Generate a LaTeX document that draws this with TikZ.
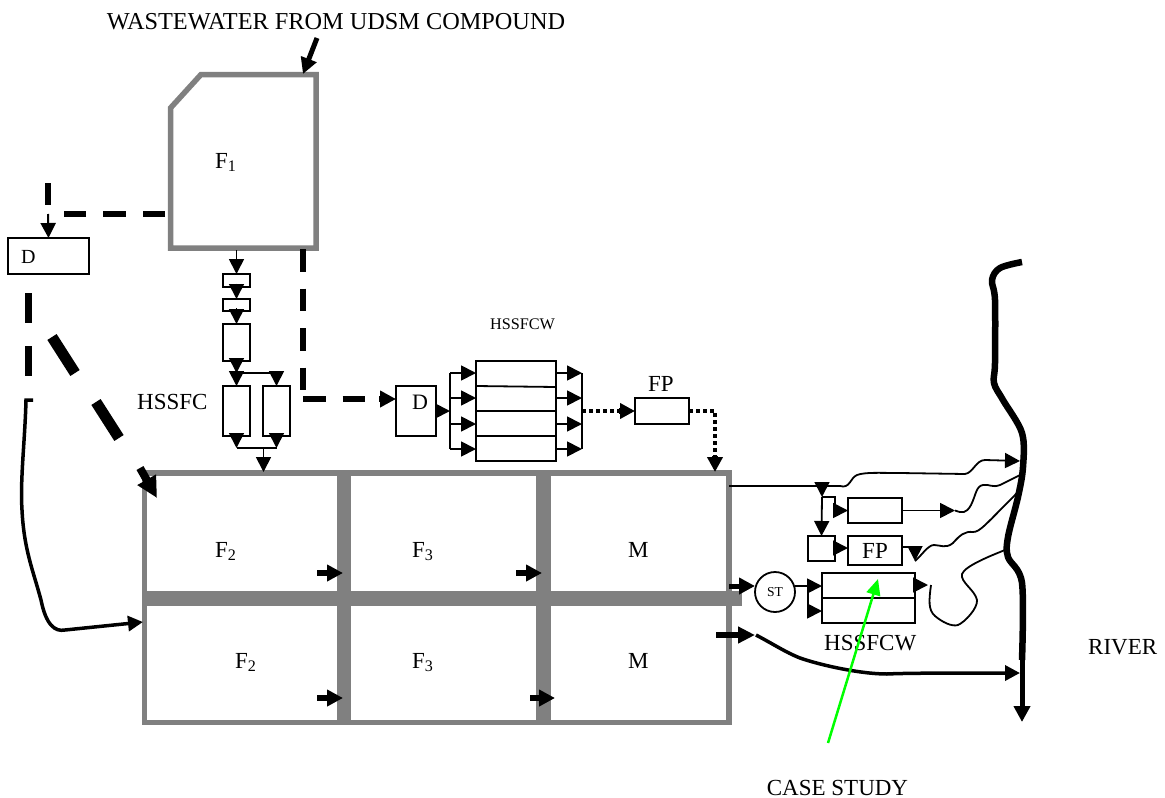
\documentclass[tikz,border=0pt]{standalone}
\usepackage{fontspec}
\setmainfont{Liberation Serif}
\usetikzlibrary{arrows.meta}
\definecolor{wallgray}{RGB}{128,128,128}
\definecolor{lime}{RGB}{0,255,0}
\tikzset{
  tip/.style={-{Triangle[length=15pt,width=15pt]}},
  bigtip/.style={-{Triangle[length=16pt,width=16pt]}},
  bx/.style={draw=black,line width=1.8pt,inner sep=0pt,outer sep=0pt,fill=white},
  wall/.style={draw=wallgray,line width=5.5pt},
  band/.style={fill=wallgray,draw=none},
  thin line/.style={draw=black,line width=1.8pt},
  med line/.style={draw=black,line width=3.5pt},
  heavy line/.style={draw=black,line width=6pt},
  dashy/.style={draw=black,line width=6pt,dash pattern=on 22.5pt off 17pt},
  dotty/.style={draw=black,line width=3.5pt,dash pattern=on 3.5pt off 3.5pt},
  stub/.style={draw=black,line width=6pt},
  lbl/.style={inner sep=0pt,anchor=base west,font=\fontsize{23}{25}\selectfont},
  lblsmall/.style={inner sep=0pt,anchor=base west,font=\fontsize{16.2}{18}\selectfont},
}
\begin{document}
\begin{tikzpicture}[x=1pt,y=-1pt]
\useasboundingbox (0,0) rectangle (1165,798);
% walls
\fill[band] (336.5,473) rectangle (351,722);
\fill[band] (536,473) rectangle (550.5,722);
\fill[band] (145,591) rectangle (742,605.5);
\draw[wall] (144.5,473) rectangle (729,722.5);
\draw[wall] (201,74.5) -- (316,74.5) -- (316,248) -- (170.5,248) -- (170.5,108) -- cycle;
% labels
\node[lbl,anchor=base] (title) at (336,29) {\fontsize{24.3}{26}\selectfont WASTEWATER FROM UDSM COMPOUND};
\node[lbl] (f1) at (215,168) {F\textsubscript{1}};
\node[lbl] (f2a) at (215,557) {F\textsubscript{2}};
\node[lbl] (f3a) at (412,557) {F\textsubscript{3}};
\node[lbl] (ma) at (628,557) {M};
\node[lbl] (f2b) at (235,668) {F\textsubscript{2}};
\node[lbl] (f3b) at (412,668) {F\textsubscript{3}};
\node[lbl] (mb) at (628,668) {M};
\node[lbl] (hssfc) at (137,409) {HSSFC};
\node[lblsmall] (hw1) at (490,329) {HSSFCW};
\node[lbl] (fpl) at (648,391) {FP};
\node[lbl] (hw2) at (824,650) {HSSFCW};
\node[lbl] (river) at (1088,654) {RIVER};
\node[lbl,anchor=base] (case) at (837.5,795) {CASE STUDY};
% boxes
\node[bx,minimum width=81pt,minimum height=36pt] (dl) at (48.5,256) {};
\node[lbl,font=\fontsize{20}{22}\selectfont] (dltxt) at (21,263) {D};
\node[bx,minimum width=27pt,minimum height=13pt] (b1) at (236.5,280.5) {};
\node[bx,minimum width=27pt,minimum height=12pt] (b2) at (236.5,305) {};
\node[bx,minimum width=27pt,minimum height=37pt] (b3) at (236.5,342.5) {};
\node[bx,minimum width=27pt,minimum height=50pt] (b4) at (236.5,411) {};
\node[bx,minimum width=27pt,minimum height=50pt] (b5) at (276.5,411) {};
\node[bx,minimum width=40pt,minimum height=50pt] (dm) at (416,411) {};
\node[lbl,font=\fontsize{22}{24}\selectfont] (dmtxt) at (412,409) {D};
\node[bx,minimum width=80pt,minimum height=100pt] (cw) at (516,411) {};
\node[bx,minimum width=54pt,minimum height=26pt] (fp1) at (662,411) {};
\node[bx,minimum width=27pt,minimum height=25pt] (sq) at (821.5,548.5) {};
\node[bx,minimum width=54pt,minimum height=25pt] (r1) at (875,510.5) {};
\node[bx,minimum width=54pt,minimum height=29pt,font=\fontsize{23}{25}\selectfont] (fp2) at (875,550.5) {FP};
\node[bx,minimum width=93pt,minimum height=50pt] (cw2) at (868.5,598) {};
\node[bx,circle,minimum size=40pt,font=\fontsize{13.6}{15}\selectfont] (st) at (775,592) {ST};
% dividers
\draw[thin line] (cw.west |- 0,386) -- (cw.east |- 0,387);
\draw[thin line] (cw.west |- 0,411) -- (cw.east |- 0,411);
\draw[thin line] (cw.west |- 0,436) -- (cw.east |- 0,436);
\draw[thin line] (cw2.west) -- (cw2.east);
% coordinates
\coordinate (inF1a) at (317,38);
\coordinate (inF1b) at (303,74);
\coordinate (f1b) at (236.5,250);
\coordinate (j1) at (276.5,373);
\coordinate (j2) at (236.5,373);
\coordinate (j3) at (236.5,448);
\coordinate (j4) at (276.5,448);
\coordinate (j5) at (263.5,448);
\coordinate (top) at (263.5,472);
\foreach \n/\x/\y in {bl/450/373,bl2/450/398,bl3/450/424,bl4/450/449,br/582/373,br2/582/398,br3/582/424,br4/582/449,brm/582/411,blm/450/411}{\coordinate (\n) at (\x,\y);}
% main vertical chain
\draw[thin line,tip] (f1b) -- (b1.north);
\draw[thin line,tip] (236.5,283.5) -- (b2.north);
\draw[thin line,tip] (236.5,308) -- (b3.north);
\draw[thin line,tip] (236.5,358) -- (j2);
\draw[thin line,tip] (j2) -- (b4.north);
\draw[thin line] (j2) -- (j1);
\draw[thin line,tip] (j1) -- (b5.north);
\draw[thin line,tip] (236.5,433) -- (j3);
\draw[thin line,tip] (276.5,433) -- (j4);
\draw[thin line] (j3) -- (j4);
\draw[thin line,tip] (j5) -- (top);
% F1 input
\draw[draw=black,line width=5pt,bigtip] (inF1a) -- (inF1b);
% dashed to left D
\coordinate (a1) at (165,214);
\coordinate (a2) at (48,214);
\coordinate (a3) at (48,183);
\draw[dashy] (a1) -- (62,214);
\draw[heavy line] (a3) -- (48,205);
\draw[draw=black,line width=2pt,tip] (a2) -- (dl.north);
% dashes under left D
\coordinate (c1) at (28.5,293);
\coordinate (c2) at (28.5,323);
\coordinate (c3) at (28.5,346);
\coordinate (c4) at (28.5,376);
\draw[draw=black,line width=7.5pt] (c1) -- (c2);
\draw[draw=black,line width=7.5pt] (c3) -- (c4);
% diagonal dashes
\coordinate (e1) at (52,337);
\coordinate (e2) at (75,373);
\coordinate (e3) at (96,402);
\coordinate (e4) at (119,438);
\coordinate (e5) at (140,468);
\coordinate (e6) at (157,498);
\draw[draw=black,line width=11pt] (e1) -- (e2);
\draw[draw=black,line width=11pt] (e3) -- (e4);
\draw[draw=black,line width=8pt,-{Triangle[length=21pt,width=20pt]}] (e5) -- (e6);
% left curve
\coordinate (g0) at (33,400);
\coordinate (g1) at (26,400);
\coordinate (g2) at (143,622);
\draw[med line] (g0) -- (g1) .. controls (25,440) and (20,480) .. (22,510) .. controls (24,550) and (33,570) .. (41,600) .. controls (46,625) and (55,632) .. (65,630);
\draw[med line,tip] (65,630) -- (g2);
% short arrows through bands
\foreach \n/\a/\b/\y in {s1/317/343/573,s2/516/542/573,s3/317/343/698,s4/530/555/698}{
  \coordinate (\n a) at (\a,\y); \coordinate (\n b) at (\b,\y);
  \draw[draw=black,line width=6pt,bigtip] (\n a) -- (\n b);
}
% dashed to middle D
\coordinate (h1) at (303,249);
\coordinate (h2) at (303,399);
\coordinate (h3) at (396,399);
\draw[dashy] (h1) -- (303,390);
\draw[dashy] (h2) -- (366,399);
\draw[stub,bigtip] (379,399) -- (dm.west |- h3);
% middle HSSFCW
\draw[thin line,tip] (dm.east) -- (blm);
\draw[thin line] (bl) -- (bl4);
\foreach \c in {bl,bl2,bl3,bl4}{\draw[thin line,tip] (\c) -- (cw.west |- \c);}
\draw[thin line] (br) -- (br4);
\foreach \c in {br,br2,br3,br4}{\draw[thin line,tip] (cw.east |- \c) -- (\c);}
\draw[dotty] (brm) -- (622,411);
\draw[stub,tip] (619,411) -- (fp1.west);
\coordinate (k1) at (715,411);
\coordinate (k2) at (715,472);
\draw[dotty] (fp1.east) -- (k1) -- (715,460);
\draw[stub,tip] (715,456) -- (k2);
% effluent lines
\coordinate (m0) at (729,486);
\coordinate (m1) at (1020,461);
\draw[thin line] (m0) -- (840,486) .. controls (850,489) and (850,478) .. (857,475) .. controls (865,472) and (880,473) .. (900,473) -- (965,474) .. controls (973,473) and (976,460) .. (985,460);
\draw[thin line,tip] (985,460) -- (m1);
\coordinate (n1) at (822,484);
\coordinate (n2) at (822,497);
\draw[thin line,tip] (n1) -- (n2);
\draw[thin line,tip] (n2) -- (sq.north);
\draw[thin line] (n2) -- (835,497) -- (835,505);
\draw[thin line,tip] (834,510.5) -- (r1.west);
\draw[thin line,tip] (834,548) -- (fp2.west |- 0,548);
\coordinate (n3) at (955,510.5);
\coordinate (n4) at (1020,475);
\draw[thin line,tip] (r1.east) -- (n3);
\draw[thin line] (n3) .. controls (962,513) and (966,514) .. (971,505) .. controls (976,495) and (976,486) .. (983,485) .. controls (990,484) and (992,488) .. (1000,485) -- (n4);
\coordinate (p1) at (915,547);
\coordinate (p2) at (915,561);
\coordinate (p3) at (1018,492);
\draw[thin line] (fp2.east |- p1) -- (p1);
\draw[thin line,tip] (p1) -- (p2);
\draw[thin line] (p2) .. controls (922,555) and (928,545) .. (934,545) .. controls (940,545) and (946,549) .. (953,543) .. controls (960,535) and (965,531) .. (973,532) .. controls (980,532) and (985,525) .. (p3);
% ST and lower box
\coordinate (q1) at (729,586);
\draw[draw=black,line width=5pt,bigtip] (q1) -- (755,586);
\coordinate (q2) at (808,586);
\coordinate (q3) at (808,611);
\draw[thin line,tip] (st.east |- q2) -- (cw2.west |- q2);
\draw[thin line] (q2) -- (q3);
\draw[thin line,tip] (q3) -- (cw2.west |- q3);
\coordinate (q4) at (928,585);
\coordinate (q5) at (1005,550);
\draw[thin line,tip] (914,585) -- (q4);
\draw[thin line] (931,585) .. controls (929,600) and (928,610) .. (935,616) .. controls (942,622) and (952,627) .. (958,625) .. controls (965,622) and (978,608) .. (977,600) .. controls (975,590) and (960,582) .. (962,574) .. controls (965,566) and (990,556) .. (q5);
% lower discharge
\coordinate (t1) at (716,635);
\coordinate (t2) at (755,635);
\coordinate (t3) at (756,635);
\coordinate (t4) at (1020,673);
\draw[draw=black,line width=6pt,-{Triangle[length=17pt,width=16pt]}] (t1) -- (t2);
\draw[med line] (t3) .. controls (775,645) and (785,652) .. (800,658) .. controls (820,665) and (860,674) .. (887,674);
\draw[med line,tip] (887,674) .. controls (905,673) and (960,673) .. (t4);
% river
\coordinate (rv1) at (1022,262);
\coordinate (rv2) at (1022,660);
\coordinate (rv3) at (1022,722);
\draw[draw=black,line width=6.5pt] plot[smooth,tension=0.55] coordinates {(rv1) (1000,268) (992,280) (995,300) (995,363) (994,383) (1003,400) (1022,433) (1023,467) (1018,497) (1008,537) (1008,557) (1022,583) (rv2)};
\draw[draw=black,line width=5pt,bigtip] (rv2) -- (rv3);
% green pointer
\coordinate (u1) at (828,743);
\coordinate (u2) at (878,579);
\draw[draw=lime,line width=2.5pt,-{Triangle[length=16pt,width=14pt]}] (u1) -- (u2);
\end{tikzpicture}
\end{document}
